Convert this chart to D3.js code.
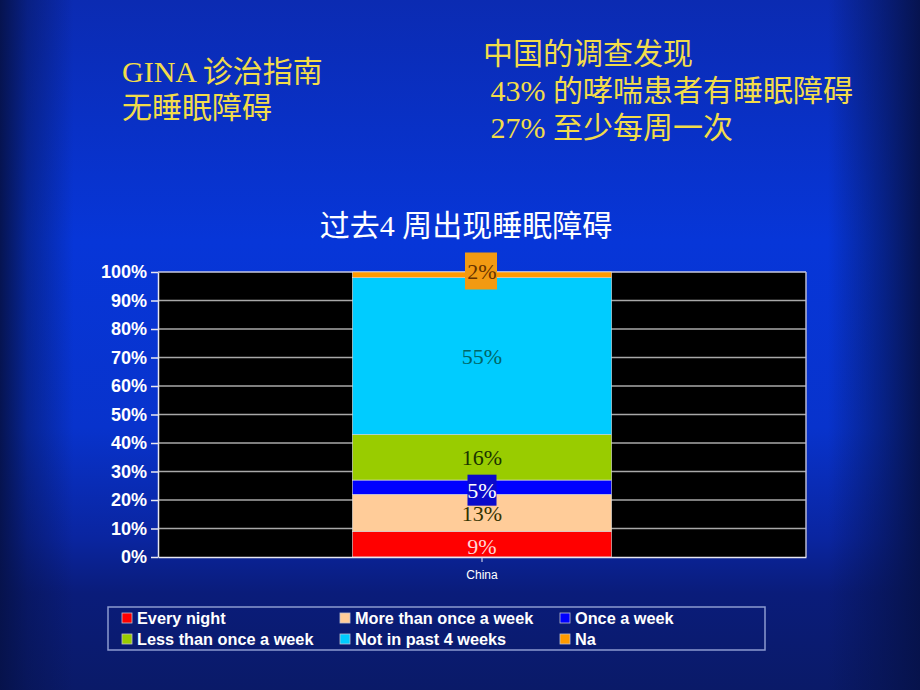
<!DOCTYPE html>
<html><head><meta charset="utf-8">
<script src="https://cdn.jsdelivr.net/npm/d3@7/dist/d3.min.js"></script>
<style>html,body{margin:0;padding:0;background:#0a1a6e;}svg{display:block;}</style>
</head><body>
<svg id="c" width="920" height="690"></svg>
<script>
const categories = ["China"];
const seriesNames = ["Every night","More than once a week","Once a week","Less than once a week","Not in past 4 weeks","Na"];
const seriesValues = [9, 13, 5, 16, 55, 2];
const seriesColors = ["#ff0000","#ffcc99","#0000ff","#99cc00","#00ccff","#ff9900"];
const labelColors = ["#ffd6d6","#333300","#ffffff","#1a3300","#006666","#663300"];
const labelBoxes = [null,null,"#0a0acc",null,null,"#f29a12"];
const yTicks = [0,10,20,30,40,50,60,70,80,90,100];
const chartTitle = "过去4 周出现睡眠障碍";
const leftText = ["GINA 诊治指南","无睡眠障碍"];
const rightText = ["中国的调查发现"," 43% 的哮喘患者有睡眠障碍"," 27% 至少每周一次"];

const svg = d3.select("#c");
const defs = svg.append("defs");
const vg = defs.append("linearGradient").attr("id","vg").attr("x1",0).attr("y1",0).attr("x2",0).attr("y2",1);
[[0,"#0b2bb2"],[0.35,"#0736d8"],[0.62,"#0833cc"],[0.78,"#0a25a0"],[0.86,"#0a1c7a"],[1,"#0a1a68"]]
  .forEach(([o,c])=>vg.append("stop").attr("offset",o).attr("stop-color",c));
const hg = defs.append("linearGradient").attr("id","hg").attr("x1",0).attr("y1",0).attr("x2",1).attr("y2",0);
[[0,"#06124a",0.95],[0.03,"#06124a",0.45],[0.08,"#06124a",0],[0.9,"#06124a",0],[0.96,"#06124a",0.55],[1,"#06124a",0.95]]
  .forEach(([o,c,a])=>hg.append("stop").attr("offset",o).attr("stop-color",c).attr("stop-opacity",a));
svg.append("rect").attr("width",920).attr("height",690).attr("fill","url(#vg)");
svg.append("rect").attr("width",920).attr("height",690).attr("fill","url(#hg)");

// Top texts
const tf = "'Liberation Serif','Noto Sans CJK SC',serif";
svg.selectAll("text.lt").data(leftText).enter().append("text")
  .attr("x",122).attr("y",(d,i)=>82+i*36).attr("fill","#f2dc4a")
  .attr("font-family",tf).attr("font-size",30).text(d=>d);
svg.selectAll("text.rt").data(rightText).enter().append("text")
  .attr("x",483).attr("y",(d,i)=>64+i*37).attr("fill","#f2dc4a")
  .style("white-space","pre")
  .attr("font-family",tf).attr("font-size",30).text(d=>d);

svg.append("text").attr("x",466).attr("y",236).attr("text-anchor","middle")
  .attr("fill","#ffffff").attr("font-family",tf).attr("font-size",30).text(chartTitle);

// Plot
const L=158,R=806,T=272,B=557;
const x = d3.scaleBand().domain(categories).range([L,R]).padding(0.4286);
const y = d3.scaleLinear().domain([0,100]).range([B,T]);
svg.append("rect").attr("x",L).attr("y",T).attr("width",R-L).attr("height",B-T).attr("fill","#000");
svg.append("g").selectAll("line").data(yTicks.filter(t=>t>0)).enter().append("line")
  .attr("x1",L).attr("x2",R).attr("y1",d=>y(d)).attr("y2",d=>y(d))
  .attr("stroke",d=>d===100?"#c8c8e0":"#a8a8a8").attr("stroke-width",1.5);
svg.append("line").attr("x1",R).attr("x2",R).attr("y1",T).attr("y2",B).attr("stroke","#b8b8d0").attr("stroke-width",1.5);

let cum=0;
const stack = seriesValues.map((v,i)=>{const s={i,v,y0:cum,y1:cum+v};cum+=v;return s;});
const bx = x("China"), bw = x.bandwidth();
svg.append("g").selectAll("rect").data(stack).enter().append("rect")
  .attr("x",bx).attr("width",bw).attr("y",d=>y(d.y1)).attr("height",d=>y(d.y0)-y(d.y1))
  .attr("fill",d=>seriesColors[d.i]).attr("stroke","#e0e0e0").attr("stroke-width",0.6);

// Left axis
const ya = svg.append("g").attr("transform",`translate(${L},0)`)
  .call(d3.axisLeft(y).tickValues(yTicks).tickFormat(d=>d+"%").tickSize(7).tickSizeOuter(0).tickPadding(4));
ya.select(".domain").attr("stroke","#e8e8f0").attr("stroke-width",1.5);
ya.selectAll(".tick line").attr("stroke","#e8e8f0").attr("stroke-width",1.5);
ya.selectAll("text").attr("fill","#ffffff").attr("font-family","'Liberation Sans',Arial,sans-serif")
  .attr("font-weight","bold").attr("font-size",18);

const xa = svg.append("g").attr("transform",`translate(0,${B})`)
  .call(d3.axisBottom(x).tickSize(5).tickSizeOuter(0).tickPadding(8));
xa.select(".domain").attr("stroke","#e8e8f0").attr("stroke-width",1.5);
xa.selectAll(".tick line").attr("stroke","#e8e8f0");
xa.selectAll("text").attr("fill","#ffffff").attr("font-family","'Liberation Sans',Arial,sans-serif").attr("font-size",12);

// Data labels
const cx = bx + bw/2;
const lblY = d => {
  if (d.i===5) return y(100)-1;
  if (d.i===2) return y((d.y0+d.y1)/2)+3;
  if (d.i===0) return y((d.y0+d.y1)/2)+2;
  return y((d.y0+d.y1)/2);
};
const lg = svg.append("g");
stack.forEach(d=>{
  if (labelBoxes[d.i]) {
    const w = d.i===5?32:29, h = d.i===5?37:31;
    lg.append("rect").attr("x",cx-w/2+(d.i===5?-1:0)).attr("y",lblY(d)-h/2).attr("width",w).attr("height",h).attr("fill",labelBoxes[d.i]);
  }
  lg.append("text").attr("x",cx).attr("y",lblY(d)).attr("dy","0.35em").attr("text-anchor","middle")
    .attr("fill",labelColors[d.i]).attr("font-family","'Liberation Serif',serif").attr("font-size",22)
    .text(d.v+"%");
});

// Legend
svg.append("rect").attr("x",108).attr("y",607).attr("width",657).attr("height",43)
  .attr("fill","none").attr("stroke","#8c9ad0").attr("stroke-width",1.5);
const colX = [122,340,560];
const leg = svg.append("g").selectAll("g").data(seriesNames).enter().append("g")
  .attr("transform",(d,i)=>`translate(${colX[i%3]},${618+Math.floor(i/3)*21})`);
leg.append("rect").attr("x",0).attr("y",-5).attr("width",10).attr("height",10)
  .attr("fill",(d,i)=>seriesColors[i]).attr("stroke","#c0c0d0").attr("stroke-width",0.8);
leg.append("text").attr("x",15).attr("y",0).attr("dy","0.36em").attr("fill","#ffffff")
  .attr("font-family","'Liberation Sans',Arial,sans-serif").attr("font-weight","bold").attr("font-size",16.3)
  .text(d=>d);
</script>
</body></html>
